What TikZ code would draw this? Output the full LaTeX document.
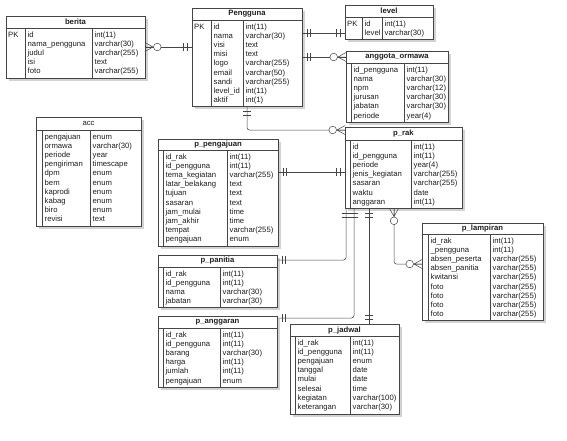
\documentclass[tikz,border=0pt]{standalone}
\usepackage{fontspec}
\setmainfont{Liberation Sans}
\usetikzlibrary{calc}
\definecolor{lnc}{HTML}{454545}
\definecolor{txc}{HTML}{1E1E1E}
\definecolor{shd}{HTML}{D2D2D2}
\tikzset{
  box/.style={draw=lnc, fill=white, line width=0.6pt, inner sep=0pt, outer sep=0pt},
  ttl/.style={font=\fontsize{7.7}{9}\selectfont\bfseries, text=txc},
  rowtxt/.style={font=\fontsize{7.7}{9}\selectfont, text=txc, inner sep=0pt, anchor=base west},
  divline/.style={draw=lnc, line width=0.5pt},
  conn/.style={draw=lnc, line width=0.5pt, rounded corners=2.5pt},
  erone/.pic={\draw[draw=lnc, line width=0.5pt] (5,-4) -- (5,4) (8.5,-4) -- (8.5,4);},
  ermany/.pic={\draw[draw=lnc, line width=0.5pt] (0,-4.5) -- (8,0) -- (0,4.5) (0,0) -- (8,0);
    \draw[draw=lnc, line width=0.5pt, fill=white] (12.3,0) circle (3.8);},
}
% #1 key, #2 title, #3 x1, #4 x2, #5 header top, #6 header bottom, #7 body bottom, #8 names, #9 types
\newcommand{\ertable}[9]{%
  \fill[shd] ({#3+2.5},{#5+2.5}) rectangle ({#4+2.5},{#7+2.5});
  \node[box, ttl, minimum width={(#4-#3)*1pt}, minimum height={(#6-#5)*1pt}] (#1-h) at ({(#3+#4)/2},{(#5+#6)/2}) {#2};
  \node[box, minimum width={(#4-#3)*1pt}, minimum height={(#7-#6)*1pt}] (#1) at ({(#3+#4)/2},{(#6+#7)/2}) {};
  \draw[divline] (\pkx,#6) -- (\pkx,#7);
  \draw[divline] (\divx,#6) -- (\divx,#7);
  \ifnum\pk=1 \node[rowtxt] (#1-pk) at ({#3+2},{#6+9}) {PK};\fi
  \foreach \t [count=\i from 0] in {#8} \node[rowtxt] (#1-n\i) at ({\pkx+2.5},{#6+9+9.2*\i}) {\t};
  \foreach \t [count=\i from 0] in {#9} \node[rowtxt] (#1-t\i) at ({\divx+2.5},{#6+9+9.2*\i}) {\t};
}
\begin{document}
\begin{tikzpicture}[x=1pt, y=-1pt]
\fill[white] (0,0) rectangle (567,440);
\useasboundingbox (0,0) rectangle (567,440);

\def\pk{1}
\def\pkx{25}\def\divx{92}
\ertable{berita}{berita}{6}{145}{16}{28}{78.3}{id,nama\_pengguna,judul,isi,foto}{int(11),varchar(30),varchar(255),text,varchar(255)}
\def\pkx{211}\def\divx{243}
\ertable{pengguna}{Pengguna}{192}{302}{8}{20}{106.5}{id,nama,visi,misi,logo,email,sandi,level\_id,aktif}{int(11),varchar(30),text,text,varchar(255),varchar(50),varchar(255),int(11),int(1)}
\def\pkx{362}\def\divx{382}
\ertable{level}{level}{345}{433}{5}{17}{39.5}{id,level}{int(11),varchar(30)}

\def\pk{0}
\def\pkx{351}\def\divx{404}
\ertable{anggota}{anggota\_ormawa}{346}{448}{51}{63}{122}{id\_pengguna,nama,npm,jurusan,jabatan,periode}{int(11),varchar(30),varchar(12),varchar(30),varchar(30),year(4)}
\def\pkx{350}\def\divx{411}
\ertable{prak}{p\_rak}{345}{462}{127}{140}{208.5}{id,id\_pengguna,periode,jenis\_kegiatan,sasaran,waktu,anggaran}{int(11),int(11),year(4),varchar(255),varchar(255),date,int(11)}
\def\pkx{42}\def\divx{90}
\ertable{acc}{\mdseries acc}{36}{141}{117}{130}{226}{pengajuan,ormawa,periode,pengiriman,dpm,bem,kaprodi,kabag,biro,revisi}{enum,varchar(30),year,timescape,enum,enum,enum,enum,enum,text}
\def\pkx{163}\def\divx{227}
\ertable{ppengajuan}{p\_pengajuan}{158}{278}{139}{150}{246}{id\_rak,id\_pengguna,tema\_kegiatan,latar\_belakang,tujuan,sasaran,jam\_mulai,jam\_akhir,tempat,pengajuan}{int(11),int(11),varchar(255),text,text,text,time,time,varchar(255),enum}
\def\pkx{163}\def\divx{220}
\ertable{ppanitia}{p\_panitia}{158}{277}{255}{267}{307.6}{id\_rak,id\_pengguna,nama,jabatan}{int(11),int(11),varchar(30),varchar(30)}
\ertable{panggaran}{p\_anggaran}{158}{277}{316}{328}{387.5}{id\_rak,id\_pengguna,barang,harga,jumlah,pengajuan}{int(11),int(11),varchar(30),int(11),int(11),enum}
\def\pkx{295}\def\divx{350}
\ertable{pjadwal}{p\_jadwal}{290}{399}{324}{336}{414}{id\_rak,id\_pengguna,pengajuan,tanggal,mulai,selesai,kegiatan,keterangan}{int(11),int(11),enum,date,date,time,varchar(100),varchar(30)}
\def\pkx{428}\def\divx{490}
\ertable{plampiran}{p\_lampiran}{422}{543}{223}{234}{320.6}{id\_rak,\_pengguna,absen\_peserta,absen\_panitia,kwitansi,foto,foto,foto,foto}{int(11),int(11),varchar(255),varchar(255),varchar(255),varchar(255),varchar(255),varchar(255),varchar(255)}

% connectors
\coordinate (c1a) at ($(berita.north east)+(0,19)$);
\coordinate (c1b) at (pengguna.west |- c1a);
\coordinate (c2a) at ($(pengguna.north east)+(0,13)$);
\coordinate (c2b) at (level.west |- c2a);
\coordinate (c3a) at ($(pengguna.north east)+(0,37)$);
\coordinate (c3b) at (anggota-h.west |- c3a);
\coordinate (c4a) at (pengguna.south);
\coordinate (c4b) at ($(prak-h.north west)+(0,3)$);
\coordinate (c5a) at ($(ppengajuan.north east)+(0,22)$);
\coordinate (c5b) at (prak.west |- c5a);
\coordinate (c6a) at ($(prak.south west)+(1,0)$);
\coordinate (c6b) at ($(ppanitia-h.north east)+(0,5)$);
\coordinate (c7a) at ($(prak.south west)+(9,0)$);
\coordinate (c7b) at ($(panggaran-h.north east)+(0,2)$);
\coordinate (c8a) at ($(prak.south west)+(24,0)$);
\coordinate (c8b) at (c8a |- pjadwal-h.north);
\coordinate (c9a) at ($(prak.south west)+(49,0)$);
\coordinate (c9b) at ($(plampiran.north west)+(0,30)$);

\draw[conn] (c1a) -- (c1b);
\draw[conn] (c2a) -- (c2b);
\draw[conn] (c3a) -- (c3b);
\draw[conn] (c4a) |- (c4b);
\draw[conn] (c5a) -- (c5b);
\draw[conn] (c6a) |- (c6b);
\draw[conn] (c7a) |- (c7b);
\draw[conn] (c8a) -- (c8b);
\draw[conn] (c9a) |- (c9b);

\pic at (c1a) {ermany}; \pic[rotate=180] at (c1b) {erone};
\pic at (c2a) {erone}; \pic[rotate=180] at (c2b) {erone};
\pic at (c3a) {erone}; \pic[rotate=180] at (c3b) {ermany};
\pic[rotate=-90] at (c4a) {erone}; \pic[rotate=180] at (c4b) {ermany};
\pic at (c5a) {erone}; \pic[rotate=180] at (c5b) {erone};
\pic[rotate=-90] at (c6a) {erone}; \pic at (c6b) {erone};
\pic[rotate=-90] at (c7a) {erone}; \pic at (c7b) {erone};
\pic[rotate=-90] at (c8a) {erone}; \pic[rotate=90] at (c8b) {erone};
\pic[rotate=-90] at (c9a) {ermany}; \pic[rotate=180] at (c9b) {ermany};
\end{tikzpicture}
\end{document}
